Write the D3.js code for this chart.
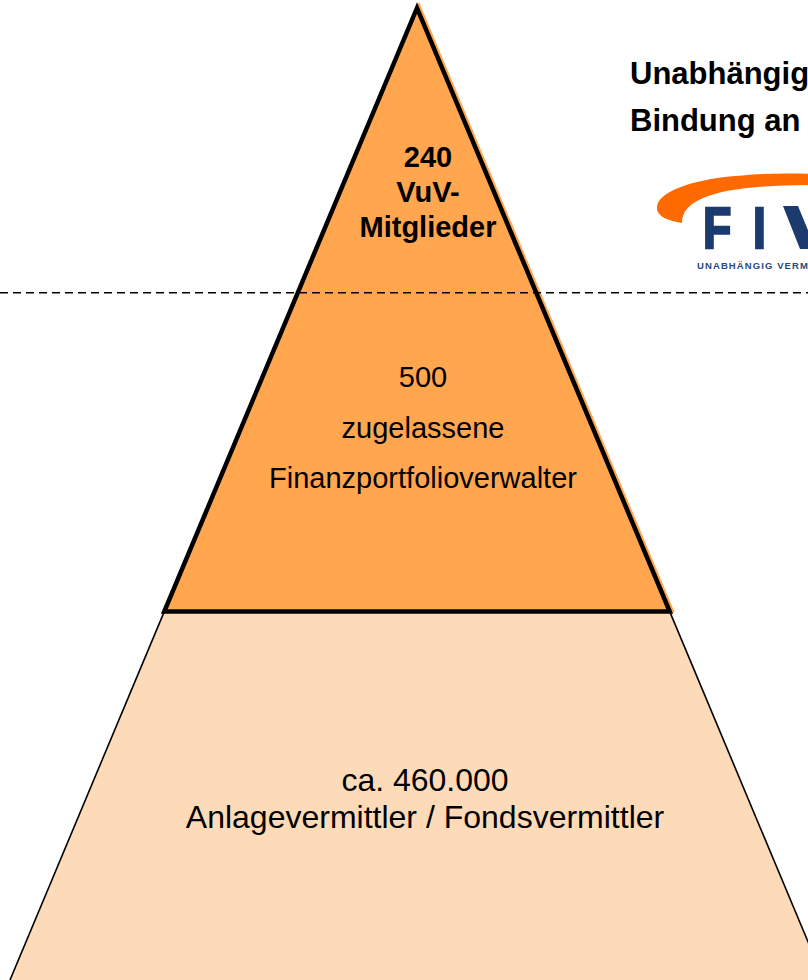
<!DOCTYPE html>
<html>
<head>
<meta charset="utf-8">
<script src="https://cdn.jsdelivr.net/npm/d3@7"></script>
<style>
  html, body { margin: 0; padding: 0; background: #fff; overflow: hidden; }
  svg { display: block; font-family: "Liberation Sans", Arial, sans-serif; }
</style>
</head>
<body>
<svg id="chart" width="808" height="980"></svg>
<script>
// tiers of the pyramid, top to bottom
var tierNames = ["VuV-Mitglieder", "Finanzportfolioverwalter", "Anlagevermittler / Fondsvermittler"];
var tierCounts = ["240", "500", "ca. 460.000"];
var tierLabels = [
    ["240", "VuV-", "Mitglieder"],
    ["500", "zugelassene", "Finanzportfolioverwalter"],
    ["ca. 460.000", "Anlagevermittler / Fondsvermittler"]
];
// depth of tier borders (0 = apex, 1 = bottom of picture)
var tierBreaks = [0, 0.293, 0.621, 1];
var titleLines = ["Unabhängig", "Bindung an"];
var logoLetters = ["F", "I"];
var logoClaim = "UNABHÄNGIG VERM";

var svg = d3.select("#chart");
var cx = 417;

var y = d3.scaleLinear().domain([0, 1]).range([8, 980]);
var hw = d3.scaleLinear().domain([0, 1]).range([0, 407]);

function pt(depth, side) {
    return [cx + side * hw(depth), y(depth)];
}

var line = d3.line();

// lower, light tier
var lowTop = tierBreaks[2], lowBot = tierBreaks[3];
svg.append("path")
    .attr("d", line([pt(lowTop, -1), pt(lowTop, 1), pt(lowBot, 1), pt(lowBot, -1)]) + "Z")
    .attr("fill", "#FDDBB9");

svg.selectAll("line.side")
    .data([-1, 1])
    .enter()
    .append("line")
    .attr("class", "side")
    .attr("x1", function(d) { return pt(lowTop, d)[0]; })
    .attr("y1", function(d) { return pt(lowTop, d)[1]; })
    .attr("x2", function(d) { return pt(lowBot, d)[0]; })
    .attr("y2", function(d) { return pt(lowBot, d)[1]; })
    .attr("stroke", "#000")
    .attr("stroke-width", 1.6);

// orange upper triangle (fill slightly offset like the original)
var tri = line([pt(tierBreaks[0], 0), pt(lowTop, 1), pt(lowTop, -1)]) + "Z";
svg.append("path")
    .attr("d", tri)
    .attr("transform", "translate(2,-1)")
    .attr("fill", "#FFA64F")
    .attr("stroke", "#FFA64F")
    .attr("stroke-width", 4);

svg.append("path")
    .attr("d", tri)
    .attr("fill", "none")
    .attr("stroke", "#000")
    .attr("stroke-width", 4.5)
    .attr("stroke-linejoin", "miter")
    .attr("stroke-miterlimit", 20);

// dashed separator between the two orange tiers
svg.append("line")
    .attr("x1", 0)
    .attr("x2", 808)
    .attr("y1", y(tierBreaks[1]))
    .attr("y2", y(tierBreaks[1]))
    .attr("stroke", "#000")
    .attr("stroke-width", 1.6)
    .attr("stroke-dasharray", "8,5");

// labels
var labelStyle = [
    {x: 428, y: 167, dy: 35, size: 29, weight: "bold"},
    {x: 423, y: 387, dy: 50.5, size: 29, weight: "normal"},
    {x: 425, y: 791, dy: 36.5, size: 32, weight: "normal"}
];

svg.selectAll("text.tier")
    .data(tierLabels)
    .enter()
    .append("text")
    .attr("class", "tier")
    .attr("text-anchor", "middle")
    .attr("font-size", function(d, i) { return labelStyle[i].size; })
    .attr("font-weight", function(d, i) { return labelStyle[i].weight; })
    .attr("fill", "#000")
    .each(function(d, i) {
        var s = labelStyle[i];
        d3.select(this).selectAll("tspan")
            .data(d)
            .enter()
            .append("tspan")
            .attr("x", s.x)
            .attr("y", function(t, j) { return s.y + j * s.dy; })
            .text(function(t) { return t; });
    });

// title at the top right
svg.append("text")
    .attr("font-size", 31)
    .attr("font-weight", "bold")
    .attr("fill", "#000")
    .selectAll("tspan")
    .data(titleLines)
    .enter()
    .append("tspan")
    .attr("x", 630)
    .attr("y", function(d, i) { return 84 + i * 47; })
    .text(function(d) { return d; });

// logo
var logo = svg.append("g");
logo.append("path")
    .attr("d", "M657,207 C658,192 690,180 735,176 C765,173 790,173 812,174 L812,185 C780,185 745,187 722,192 C697,198 682,207 682,223 C668,221 656,216 657,207 Z")
    .attr("fill", "#FF6A00");

var letterX = [703, 753];
logo.selectAll("text.letter")
    .data(logoLetters)
    .enter()
    .append("text")
    .attr("class", "letter")
    .attr("x", function(d, i) { return letterX[i]; })
    .attr("y", 248)
    .attr("font-size", 58)
    .attr("font-weight", "bold")
    .attr("fill", "#1B3A6E")
    .attr("stroke", "#1B3A6E")
    .attr("stroke-width", 2.5)
    .attr("transform", function(d, i) {
        var x = letterX[i];
        return "translate(" + x + ",0) scale(0.8,1) translate(" + (-x) + ",0)";
    })
    .text(function(d) { return d; });

// the V of the logo is cut by the picture edge
logo.append("path")
    .attr("d", "M783,206 L798,206 L812,240 L812,249 L800,249 Z")
    .attr("fill", "#1B3A6E");

logo.append("text")
    .attr("x", 697)
    .attr("y", 269)
    .attr("font-size", 9.5)
    .attr("font-weight", "bold")
    .attr("letter-spacing", 1.1)
    .attr("fill", "#2A4A7E")
    .text(logoClaim);
</script>
</body>
</html>
